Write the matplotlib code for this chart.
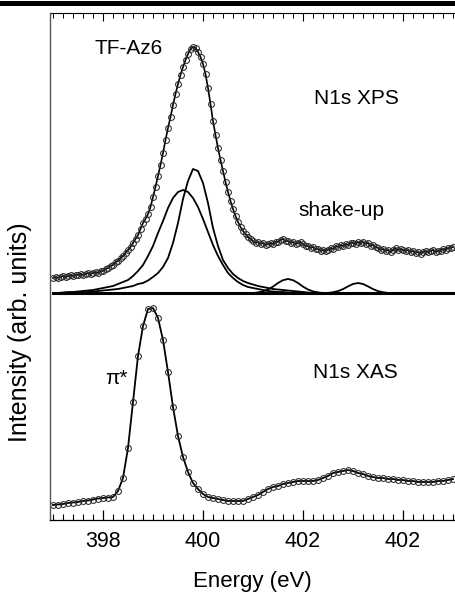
import numpy as np
import matplotlib
matplotlib.use('Agg')
import matplotlib.pyplot as plt
from matplotlib.lines import Line2D
from matplotlib.ticker import FixedLocator, FixedFormatter, MultipleLocator

plt.rcParams['font.family'] = ['Liberation Sans', 'DejaVu Sans']

# N1s XPS data, 397.0 - 405.0 eV in 0.05 eV steps (intensity above the fit baseline)
xps_energy = np.round(np.arange(397.0, 405.001, 0.05), 2)
xps_counts = [
    15, 16, 15, 16, 17, 16, 17, 18, 17, 18,
    18, 19, 18, 19, 20, 19, 20, 21, 20, 22,
    22, 24, 25, 27, 28, 31, 32, 35, 37, 40,
    43, 46, 50, 54, 58, 64, 70, 74, 79, 86,
    96, 106, 117, 128, 140, 153, 165, 176, 188, 199,
    209, 218, 226, 233, 239, 244, 246, 245, 241, 236,
    229, 219, 205, 189, 172, 158, 145, 133, 122, 111,
    101, 92, 84, 77, 71, 66, 62, 59, 56, 54,
    52, 50, 51, 49, 50, 48, 49, 50, 49, 51,
    51, 53, 54, 52, 52, 50, 51, 49, 50, 51,
    49, 47, 47, 45, 46, 44, 44, 42, 43, 42,
    43, 45, 44, 47, 46, 48, 47, 49, 48, 50,
    50, 49, 51, 50, 51, 49, 50, 47, 48, 46,
    45, 43, 44, 42, 43, 41, 43, 45, 43, 44,
    43, 42, 43, 41, 42, 40, 41, 39, 41, 42,
    41, 42, 43, 41, 42, 42, 44, 43, 45, 45, 46,
]

# fitted components (0.1 eV steps)
comp1_energy = np.round(np.arange(397.0, 401.801, 0.1), 1)
comp1 = [0, 0, 0.5, 1, 1, 1.5, 2, 2.5, 3, 4,
         5, 6, 7, 9, 11, 13, 17, 22, 28, 37,
         47, 60, 72, 85, 95, 101, 103, 101, 95, 86,
         74, 61, 48, 37, 28, 20, 15, 11, 8, 6,
         5, 4, 3, 2, 1.5, 1, 1, 0.5, 0]

comp2_energy = np.round(np.arange(397.5, 402.201, 0.1), 1)
comp2 = [0, 0.5, 1, 1.5, 2, 2.5, 3, 3.5, 4, 5,
         6, 7, 9, 10, 12.5, 16, 20, 26, 35, 50,
         70, 94, 112, 124, 122, 110, 90, 65, 47, 33,
         25, 19, 15, 12, 10, 8.5, 7, 6, 5, 4,
         3.5, 3, 2.5, 2, 1.5, 1, 0.5, 0]

shake1_energy = np.round(np.arange(401.0, 402.401, 0.1), 1)
shake1 = [0, 0.6, 1.6, 3.5, 6.4, 10, 12.8, 14, 12.8, 10, 6.4, 3.5, 1.6, 0.6, 0]

shake2_energy = np.round(np.arange(402.5, 403.701, 0.1), 1)
shake2 = [0, 0.8, 1.9, 3.9, 6.6, 9, 10, 9, 6.6, 3.9, 1.9, 0.8, 0]

# N1s XAS data, 397.0 - 405.0 eV in 0.1 eV steps
xas_energy = np.round(np.arange(397.0, 405.001, 0.1), 1)
xas_counts = [
    15, 15.5, 16, 17, 17.5, 18, 19, 19.5, 20.5, 21.5,
    22, 22.5, 23, 29, 42, 72, 118, 164, 194, 211,
    212, 202, 180, 148, 113, 84, 63, 48, 37, 31,
    26, 23, 22, 21, 20, 19, 19, 19, 19, 21,
    23, 25, 28, 31, 33, 34, 36, 37, 38, 39,
    39, 39, 39, 40, 42, 44, 47, 48, 49, 50,
    49, 47, 46, 44, 43, 42, 42, 41, 41, 40,
    40, 39, 39, 38, 38, 38, 38, 39, 39, 40,
    41,
]

tick_pos = [398, 400, 402, 404]
tick_labels = ['398', '400', '402', '402']

xps_offset = 227

fig = plt.figure(figsize=(4.56, 5.92), dpi=100)
ax = fig.add_axes([50 / 456, 1 - 520 / 592, 405 / 456, 507 / 592])

mk = dict(marker='o', ms=4.2, mfc='none', mec='#2a2a2a', mew=0.75)

# XPS
ax.plot(xps_energy, np.array(xps_counts) + xps_offset, color='black', lw=1.2, **mk)
ax.plot([397.0, 405.0], [xps_offset, xps_offset], color='black', lw=2.2)
for e, c in [(comp1_energy, comp1), (comp2_energy, comp2),
             (shake1_energy, shake1), (shake2_energy, shake2)]:
    ax.plot(e, np.array(c) + xps_offset, color='black', lw=1.3)

# XAS
ax.plot(xas_energy, xas_counts, color='black', lw=1.3, **mk)

ax.set_xlim(396.94, 405.04)
ax.set_ylim(0, 507)

ax.xaxis.set_major_locator(FixedLocator(tick_pos))
ax.xaxis.set_major_formatter(FixedFormatter(tick_labels))
ax.xaxis.set_minor_locator(MultipleLocator(0.2))
ax.tick_params(axis='x', which='major', direction='in', length=7, width=0.9,
               labelsize=15.5, pad=8)
ax.tick_params(axis='x', which='minor', direction='in', length=4, width=0.8)
ax.set_yticks([])

top = ax.secondary_xaxis('top')
top.xaxis.set_major_locator(FixedLocator(tick_pos))
top.xaxis.set_minor_locator(MultipleLocator(0.2))
top.tick_params(axis='x', which='major', direction='in', length=6, width=0.8, labeltop=False)
top.tick_params(axis='x', which='minor', direction='in', length=3.5, width=0.7)
top.spines['top'].set_linewidth(0.8)

ax.spines['right'].set_visible(False)
ax.spines['top'].set_visible(False)
ax.spines['left'].set_color('#555555')
ax.spines['left'].set_linewidth(1.0)
ax.spines['bottom'].set_linewidth(0.9)

ax.set_xlabel('Energy (eV)', fontsize=16)
ax.xaxis.set_label_coords(0.499, -0.10)
ax.set_ylabel('Intensity (arb. units)', fontsize=18)
ax.yaxis.set_label_coords(-0.045, 0.37)

ax.text(398.52, 472, 'TF-Az6', fontsize=15, ha='center', va='center')
ax.text(403.06, 421, 'N1s XPS', fontsize=15, ha='center', va='center')
ax.text(402.76, 309, 'shake-up', fontsize=15, ha='center', va='center')
ax.text(403.04, 148, 'N1s XAS', fontsize=15, ha='center', va='center')
ax.text(398.26, 142, 'π*', fontsize=15, ha='center', va='center')

fig.add_artist(Line2D([0, 1], [1 - 2.5 / 592, 1 - 2.5 / 592], color='black', lw=3.6,
                      transform=fig.transFigure))

fig.savefig('out.png', dpi=100)
